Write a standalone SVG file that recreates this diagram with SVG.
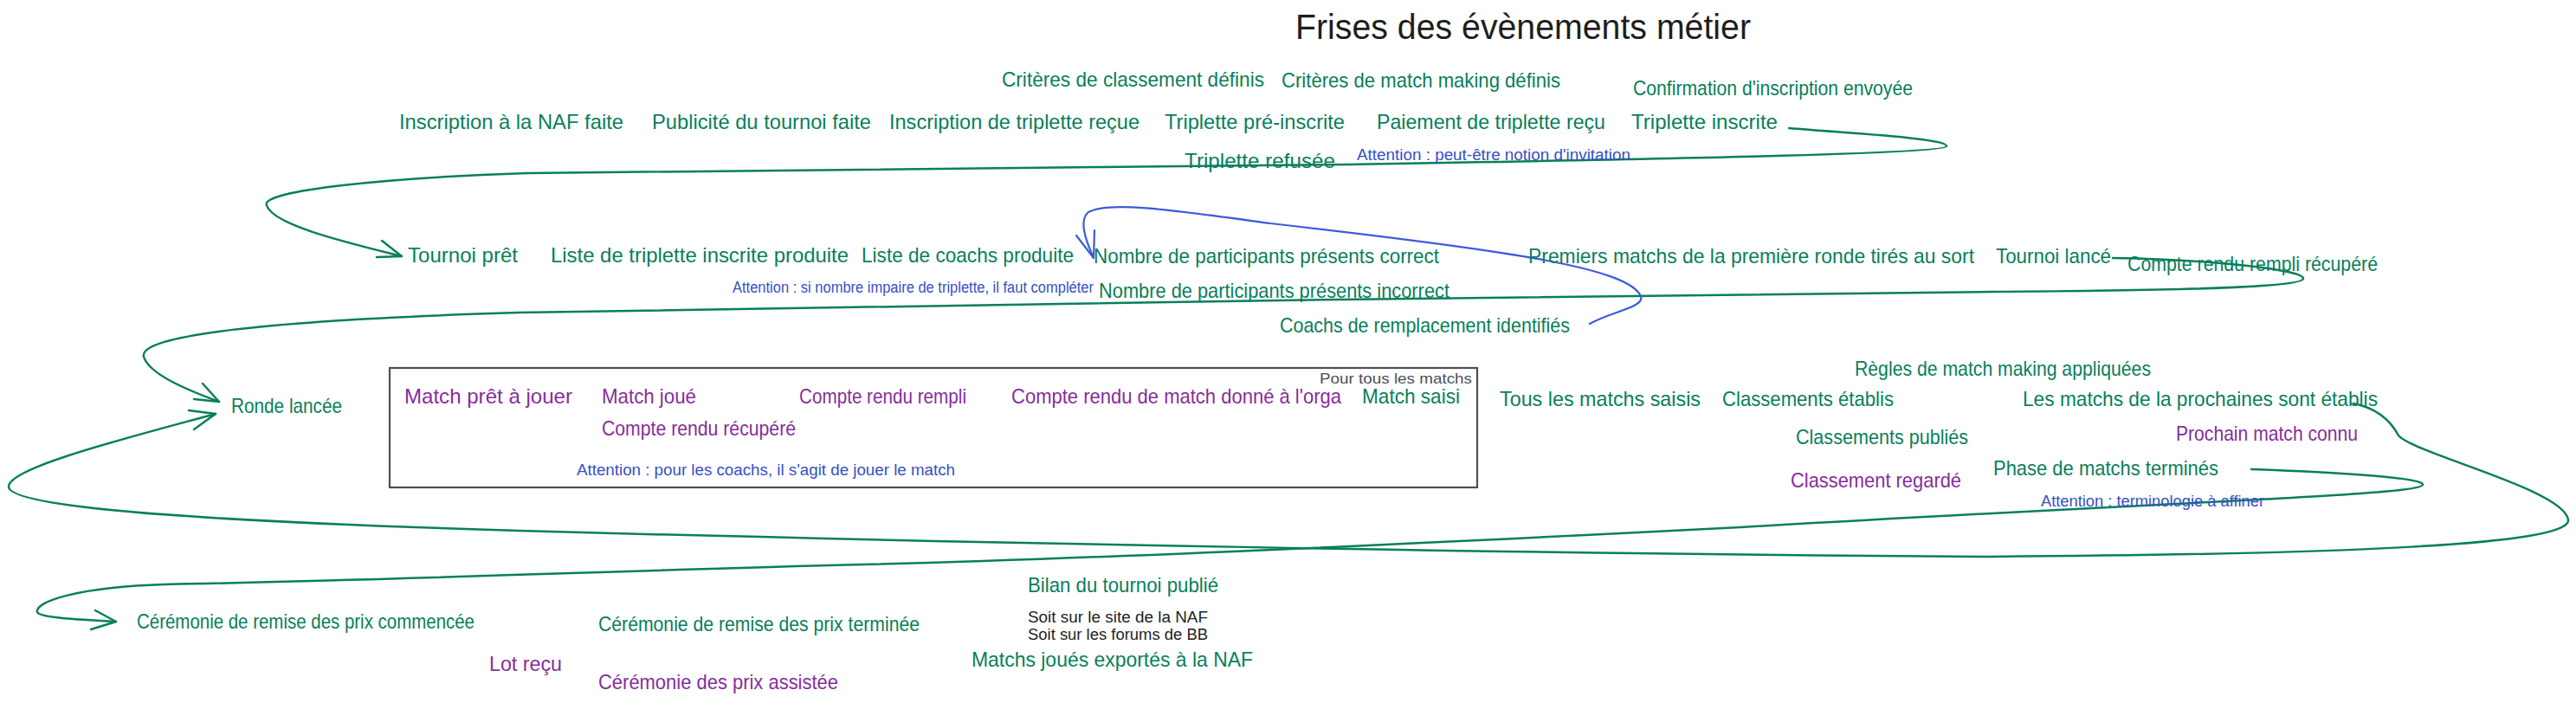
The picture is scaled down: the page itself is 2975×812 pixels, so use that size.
<svg xmlns="http://www.w3.org/2000/svg" width="2975" height="812" viewBox="0 0 2975 812">
<style>
text{font-family:"Liberation Sans","DejaVu Sans",sans-serif;}
.t{font-size:24px;}
.s{font-size:18px;}
.g{fill:#087f5b;}
.p{fill:#862e9c;}
.b{fill:#364fc7;}
.k{fill:#1e1e1e;}
.gr{fill:#495057;}
.cg{fill:none;stroke:#087f5b;stroke-width:2.5;stroke-linecap:round;stroke-linejoin:round;}
.cb{fill:none;stroke:#3b5bdb;stroke-width:2.2;stroke-linecap:round;stroke-linejoin:round;}
.box{fill:none;stroke:#495057;stroke-width:2.2;}
</style>
<rect width="2975" height="812" fill="#ffffff"/>
<g id="title"><text x="1496" y="45" font-size="40" class="k" textLength="526" lengthAdjust="spacingAndGlyphs">Frises des évènements métier</text></g>

<g id="connectors">
<path class="cg" d="M2066 148 C2150 155 2250 160 2248 169 C2246 178 1900 184 1559 190 C1200 194 700 198 609 200 C450 205 300 220 308 237 C315 260 400 280 464 296"/>
<path class="cg" d="M441 278 L464 296 L435 297"/>
<path class="cg" d="M2440 298 C2560 300 2662 312 2660 322 C2658 334 2450 336 2300 337 C1800 344 1000 350 600 361 C300 370 160 388 166 412 C172 432 215 450 253 464"/>
<path class="cg" d="M234 443 L253 464 L224 461"/>
<path class="cg" d="M2718 466 C2748 472 2762 488 2770 503 C2790 525 2960 565 2966 600 C2972 630 2700 640 2300 643 C1800 640 1100 627 600 613 C300 604 10 590 10 562 C10 540 150 505 249 478"/>
<path class="cg" d="M218 474 L249 478 L224 496"/>
<path class="cg" d="M2600 542 C2710 546 2800 552 2798 560 C2795 572 2500 580 2010 609 C1600 630 1200 648 957 653 C700 660 450 670 191 675 C90 678 40 695 43 707 C46 714 100 716 134 718"/>
<path class="cg" d="M110 705 L134 718 L105 727"/>
<path class="cb" d="M1836 374 C1860 360 1900 355 1895 342 C1880 310 1750 290 1467 258 C1350 242 1280 232 1257 245 C1245 255 1255 280 1263 298"/>
<path class="cb" d="M1243 272 L1263 298 L1264 266"/>
</g>

<g id="box-matchs"><rect class="box" x="450" y="425" width="1256" height="138"/>
<text x="1524" y="443" font-size="17" class="gr" textLength="176" lengthAdjust="spacingAndGlyphs">Pour tous les matchs</text></g>

<g id="n1"><text x="1157" y="100" class="t g" textLength="303" lengthAdjust="spacingAndGlyphs">Critères de classement définis</text></g>
<g id="n2"><text x="1480" y="101" class="t g" textLength="322" lengthAdjust="spacingAndGlyphs">Critères de match making définis</text></g>
<g id="n3"><text x="1886" y="110" class="t g" textLength="323" lengthAdjust="spacingAndGlyphs">Confirmation d'inscription envoyée</text></g>
<g id="n4"><text x="461" y="149" class="t g" textLength="259" lengthAdjust="spacingAndGlyphs">Inscription à la NAF faite</text></g>
<g id="n5"><text x="753" y="149" class="t g" textLength="253" lengthAdjust="spacingAndGlyphs">Publicité du tournoi faite</text></g>
<g id="n6"><text x="1027" y="149" class="t g" textLength="289" lengthAdjust="spacingAndGlyphs">Inscription de triplette reçue</text></g>
<g id="n7"><text x="1345" y="149" class="t g" textLength="208" lengthAdjust="spacingAndGlyphs">Triplette pré-inscrite</text></g>
<g id="n8"><text x="1590" y="149" class="t g" textLength="264" lengthAdjust="spacingAndGlyphs">Paiement de triplette reçu</text></g>
<g id="n9"><text x="1884" y="149" class="t g" textLength="169" lengthAdjust="spacingAndGlyphs">Triplette inscrite</text></g>
<g id="n10"><text x="1368" y="194" class="t g" textLength="174" lengthAdjust="spacingAndGlyphs">Triplette refusée</text></g>
<g id="note1"><text x="1567" y="185" class="s b" textLength="316" lengthAdjust="spacingAndGlyphs">Attention : peut-être notion d'invitation</text></g>

<g id="n11"><text x="471" y="303" class="t g" textLength="127" lengthAdjust="spacingAndGlyphs">Tournoi prêt</text></g>
<g id="n12"><text x="636" y="303" class="t g" textLength="344" lengthAdjust="spacingAndGlyphs">Liste de triplette inscrite produite</text></g>
<g id="n13"><text x="995" y="303" class="t g" textLength="245" lengthAdjust="spacingAndGlyphs">Liste de coachs produite</text></g>
<g id="n14"><text x="1263" y="304" class="t g" textLength="399" lengthAdjust="spacingAndGlyphs">Nombre de participants présents correct</text></g>
<g id="n15"><text x="1765" y="304" class="t g" textLength="515" lengthAdjust="spacingAndGlyphs">Premiers matchs de la première ronde tirés au sort</text></g>
<g id="n16"><text x="2305" y="304" class="t g" textLength="133" lengthAdjust="spacingAndGlyphs">Tournoi lancé</text></g>
<g id="n17"><text x="2457" y="313" class="t g" textLength="289" lengthAdjust="spacingAndGlyphs">Compte rendu rempli récupéré</text></g>
<g id="note2"><text x="846" y="338" class="s b" textLength="417" lengthAdjust="spacingAndGlyphs">Attention : si nombre impaire de triplette, il faut compléter</text></g>
<g id="n18"><text x="1269" y="344" class="t g" textLength="405" lengthAdjust="spacingAndGlyphs">Nombre de participants présents incorrect</text></g>
<g id="n19"><text x="1478" y="384" class="t g" textLength="335" lengthAdjust="spacingAndGlyphs">Coachs de remplacement identifiés</text></g>

<g id="n20"><text x="267" y="477" class="t g" textLength="128" lengthAdjust="spacingAndGlyphs">Ronde lancée</text></g>
<g id="n21"><text x="467" y="466" class="t p" textLength="194" lengthAdjust="spacingAndGlyphs">Match prêt à jouer</text></g>
<g id="n22"><text x="695" y="466" class="t p" textLength="109" lengthAdjust="spacingAndGlyphs">Match joué</text></g>
<g id="n23"><text x="923" y="466" class="t p" textLength="193" lengthAdjust="spacingAndGlyphs">Compte rendu rempli</text></g>
<g id="n24"><text x="1168" y="466" class="t p" textLength="381" lengthAdjust="spacingAndGlyphs">Compte rendu de match donné à l'orga</text></g>
<g id="n25"><text x="1573" y="466" class="t g" textLength="113" lengthAdjust="spacingAndGlyphs">Match saisi</text></g>
<g id="n26"><text x="695" y="503" class="t p" textLength="224" lengthAdjust="spacingAndGlyphs">Compte rendu récupéré</text></g>
<g id="note3"><text x="666" y="549" class="s b" textLength="437" lengthAdjust="spacingAndGlyphs">Attention : pour les coachs, il s'agit de jouer le match</text></g>

<g id="n27"><text x="1732" y="469" class="t g" textLength="232" lengthAdjust="spacingAndGlyphs">Tous les matchs saisis</text></g>
<g id="n28"><text x="1989" y="469" class="t g" textLength="198" lengthAdjust="spacingAndGlyphs">Classements établis</text></g>
<g id="n29"><text x="2142" y="434" class="t g" textLength="342" lengthAdjust="spacingAndGlyphs">Règles de match making appliquées</text></g>
<g id="n30"><text x="2336" y="469" class="t g" textLength="410" lengthAdjust="spacingAndGlyphs">Les matchs de la prochaines sont établis</text></g>
<g id="n31"><text x="2074" y="513" class="t g" textLength="199" lengthAdjust="spacingAndGlyphs">Classements publiés</text></g>
<g id="n32"><text x="2513" y="509" class="t p" textLength="210" lengthAdjust="spacingAndGlyphs">Prochain match connu</text></g>
<g id="n33"><text x="2068" y="563" class="t p" textLength="197" lengthAdjust="spacingAndGlyphs">Classement regardé</text></g>
<g id="n34"><text x="2302" y="549" class="t g" textLength="260" lengthAdjust="spacingAndGlyphs">Phase de matchs terminés</text></g>
<g id="note4"><text x="2357" y="585" class="s b" textLength="258" lengthAdjust="spacingAndGlyphs">Attention : terminologie à affiner</text></g>

<g id="n35"><text x="1187" y="684" class="t g" textLength="220" lengthAdjust="spacingAndGlyphs">Bilan du tournoi publié</text></g>
<g id="note5"><text x="1187" y="719" class="s k" textLength="208" lengthAdjust="spacingAndGlyphs">Soit sur le site de la NAF</text>
<text x="1187" y="739" class="s k" textLength="208" lengthAdjust="spacingAndGlyphs">Soit sur les forums de BB</text></g>
<g id="n36"><text x="1122" y="770" class="t g" textLength="325" lengthAdjust="spacingAndGlyphs">Matchs joués exportés à la NAF</text></g>
<g id="n37"><text x="158" y="726" class="t g" textLength="390" lengthAdjust="spacingAndGlyphs">Cérémonie de remise des prix commencée</text></g>
<g id="n38"><text x="691" y="729" class="t g" textLength="371" lengthAdjust="spacingAndGlyphs">Cérémonie de remise des prix terminée</text></g>
<g id="n39"><text x="565" y="775" class="t p" textLength="84" lengthAdjust="spacingAndGlyphs">Lot reçu</text></g>
<g id="n40"><text x="691" y="796" class="t p" textLength="277" lengthAdjust="spacingAndGlyphs">Cérémonie des prix assistée</text></g>
</svg>
